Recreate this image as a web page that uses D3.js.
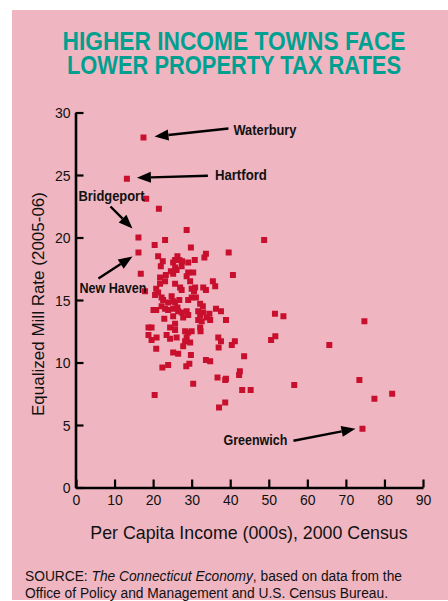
<!DOCTYPE html>
<html>
<head>
<meta charset="utf-8">
<script src="https://cdn.jsdelivr.net/npm/d3@7"></script>
<style>
  html, body { margin: 0; padding: 0; background: #fff; }
  svg { display: block; }
</style>
</head>
<body>
<div id="chart"></div>
<script>
// per capita income (000s) and equalized mill rate, one entry per town
const income = [28.7, 23.1, 20.4, 29.8, 33.7, 33.3, 39.6, 21.3, 26.3, 26.8, 30.8, 22.5, 22.0, 25.2, 25.7,
  27.5, 29.1, 25.7, 26.1, 27.4, 24.6, 25.2, 29.1, 30.4, 28.7, 16.8, 40.7, 23.3, 21.8, 23.1, 21.8, 25.7,
  29.6, 35.5, 36.1, 33.0, 30.9, 27.0, 17.9, 20.8, 21.3, 20.5, 27.4, 30.0, 30.6, 33.7, 22.2, 22.6, 24.8,
  25.2, 23.9, 25.7, 26.8, 29.1, 30.0, 31.1, 32.2, 32.9, 20.1, 20.8, 22.2, 23.1, 23.9, 25.2, 26.3, 26.5,
  27.4, 28.7, 29.1, 27.8, 31.7, 32.2, 33.0, 34.6, 36.3, 37.6, 33.9, 34.8, 38.9, 22.9, 25.2, 31.7, 32.6,
  32.2, 32.3, 24.4, 25.7, 25.7, 18.8, 19.6, 28.3, 29.1, 30.0, 18.8, 19.6, 20.9, 23.5, 24.4, 26.1, 28.7,
  28.3, 29.6, 36.9, 37.6, 41.2, 40.4, 27.8, 20.8, 25.2, 26.5, 29.8, 37.0, 43.6, 22.4, 23.9, 28.6, 29.4,
  33.7, 34.8, 36.7, 38.7, 38.9, 42.5, 42.3, 30.4, 20.4, 43.1, 45.3, 37.1, 38.7, 51.6, 53.8, 74.8, 50.6,
  51.7, 65.7, 56.6, 73.5, 77.4, 82.0, 48.8, 18.2, 21.5];
const millRate = [20.6, 19.8, 19.4, 19.2, 18.7, 18.4, 18.8, 18.5, 18.5, 18.2, 18.2, 18.1, 17.7, 18.0, 18.2,
  18.1, 18.0, 17.6, 17.4, 17.7, 17.3, 17.1, 17.2, 17.2, 16.9, 17.1, 17.0, 17.0, 16.8, 16.5, 16.3, 16.3,
  16.5, 16.5, 16.1, 16.0, 16.0, 16.0, 15.7, 15.9, 15.6, 15.4, 15.8, 15.9, 15.7, 15.8, 15.2, 15.0, 15.3,
  14.9, 14.8, 14.8, 15.0, 15.0, 15.2, 15.2, 14.7, 14.5, 14.2, 14.2, 14.5, 14.3, 14.2, 14.3, 14.4, 14.1,
  14.0, 14.1, 13.8, 13.6, 14.1, 13.8, 14.0, 13.9, 14.3, 14.1, 13.6, 13.4, 13.4, 13.5, 13.7, 13.4, 13.3,
  12.8, 12.5, 12.8, 13.1, 12.6, 12.8, 12.8, 12.5, 12.4, 12.5, 12.2, 11.8, 12.0, 12.2, 11.9, 12.0, 12.0,
  11.7, 11.6, 12.0, 11.7, 11.7, 11.4, 11.3, 11.1, 10.8, 10.7, 10.6, 11.2, 10.5, 9.6, 9.8, 9.7, 9.9,
  10.2, 10.1, 8.8, 8.6, 8.7, 9.3, 9.0, 8.3, 7.4, 7.8, 7.8, 6.4, 6.8, 13.9, 13.7, 13.3, 11.8,
  12.1, 11.4, 8.2, 8.6, 7.1, 7.5, 19.8, 23.1, 22.3];

// towns called out with arrows
const labelTown = ["Waterbury", "Hartford", "Bridgeport", "New Haven", "Greenwich"];
const labelIncome = [17.5, 13.2, 16.2, 16.2, 74.3];
const labelRate = [28.0, 24.7, 20.0, 18.8, 4.7];

const xTicks = [0, 10, 20, 30, 40, 50, 60, 70, 80, 90];
const yTicks = [0, 5, 10, 15, 20, 25, 30];

const W = 448, H = 601;
const pink = "#efb6c1";
const red = "#c8102e";
const teal = "#00a091";
// no narrow face installed, so condensed text is squeezed to its measured width
const narrow = "'Liberation Sans Narrow', 'Arial Narrow', 'Liberation Sans', sans-serif";
const sans = "'Liberation Sans', Arial, Helvetica, sans-serif";

const svg = d3.select("#chart").append("svg")
  .attr("width", W)
  .attr("height", H);

svg.append("rect")
  .attr("x", 12).attr("y", 10)
  .attr("width", W - 12).attr("height", H - 11)
  .attr("fill", pink);

// title
const titleLines = [
  { t: "HIGHER INCOME TOWNS FACE", y: 50, w: 343 },
  { t: "LOWER PROPERTY TAX RATES", y: 74, w: 334 },
];
svg.append("g")
  .selectAll("text")
  .data(titleLines)
  .join("text")
  .attr("x", 234)
  .attr("y", (d) => d.y)
  .attr("text-anchor", "middle")
  .attr("font-family", narrow)
  .attr("font-weight", "bold")
  .attr("font-size", 26.5)
  .attr("fill", teal)
  .attr("textLength", (d) => d.w)
  .attr("lengthAdjust", "spacingAndGlyphs")
  .text((d) => d.t);

const x = d3.scaleLinear().domain([0, 90]).range([76, 423]);
const y = d3.scaleLinear().domain([0, 30]).range([487.5, 112.5]);

const xAxis = svg.append("g")
  .attr("transform", `translate(0,${y(0)})`)
  .call(d3.axisBottom(x).tickValues(xTicks).tickSize(-8).tickSizeOuter(0).tickPadding(8));

const yAxis = svg.append("g")
  .attr("transform", `translate(${x(0) - 0.5},0)`)
  .call(d3.axisLeft(y).tickValues(yTicks).tickSize(-8).tickSizeOuter(0).tickPadding(5));

[xAxis, yAxis].forEach((g) => {
  g.select(".domain").attr("stroke", "#000").attr("stroke-width", 2.6);
  g.selectAll(".tick line").attr("stroke", "#000").attr("stroke-width", 2.2);
  g.selectAll(".tick text")
    .attr("font-family", sans)
    .attr("font-size", 14)
    .attr("fill", "#111");
});
yAxis.selectAll(".tick text").attr("dy", "0.36em");

// axis titles
svg.append("text")
  .attr("x", 249).attr("y", 539)
  .attr("text-anchor", "middle")
  .attr("font-family", sans)
  .attr("font-size", 17.8)
  .attr("fill", "#111")
  .text("Per Capita Income (000s), 2000 Census");

svg.append("text")
  .attr("transform", "translate(44,304) rotate(-90)")
  .attr("text-anchor", "middle")
  .attr("font-family", sans)
  .attr("font-size", 17)
  .attr("fill", "#111")
  .text("Equalized Mill Rate (2005-06)");

// points
const pts = income.map((v, i) => ({ x: v, y: millRate[i] }))
  .concat(labelIncome.map((v, i) => ({ x: v, y: labelRate[i] })));

svg.append("g")
  .selectAll("rect")
  .data(pts)
  .join("rect")
  .attr("x", (d) => x(d.x) - 3)
  .attr("y", (d) => y(d.y) - 3)
  .attr("width", 6)
  .attr("height", 6)
  .attr("fill", red);

// annotations: offsets from the point for arrow tip, arrow tail and label
const annLayout = {
  Waterbury: { tip: [11, -1], tail: [85, -9], text: [90, -3], w: 63 },
  Hartford: { tip: [10, -1], tail: [81, -3], text: [88, 1.5], w: 52 },
  Bridgeport: { tip: [-6, -9], tail: [-28, -31], text: [-60, -37], w: 66 },
  "New Haven": { tip: [-6, 4], tail: [-40, 26], text: [-59, 40], w: 67 },
  Greenwich: { tip: [-7, 0], tail: [-69, 12], text: [-139, 16], w: 64 },
};

const ann = svg.append("g");
labelTown.forEach((name, i) => {
  const px = x(labelIncome[i]);
  const py = y(labelRate[i]);
  const L = annLayout[name];
  const tx = px + L.tip[0], ty = py + L.tip[1];
  const sx = px + L.tail[0], sy = py + L.tail[1];
  const ang = Math.atan2(ty - sy, tx - sx);
  const hl = 14, hw = 5.5;
  const bx = tx - hl * Math.cos(ang), by = ty - hl * Math.sin(ang);
  const nx = -Math.sin(ang), ny = Math.cos(ang);

  ann.append("line")
    .attr("x1", sx).attr("y1", sy)
    .attr("x2", bx).attr("y2", by)
    .attr("stroke", "#000")
    .attr("stroke-width", 2.4);

  ann.append("path")
    .attr("d", `M${tx},${ty}L${bx + hw * nx},${by + hw * ny}L${bx - hw * nx},${by - hw * ny}Z`)
    .attr("fill", "#000");

  ann.append("text")
    .attr("x", px + L.text[0])
    .attr("y", py + L.text[1])
    .attr("font-family", narrow)
    .attr("font-weight", "bold")
    .attr("font-size", 14)
    .attr("fill", "#111")
    .attr("textLength", L.w)
    .attr("lengthAdjust", "spacingAndGlyphs")
    .text(name);
});

// source note
const src = svg.append("g")
  .attr("font-family", narrow)
  .attr("font-size", 15.5)
  .attr("fill", "#111");
const l1 = src.append("text").attr("x", 25).attr("y", 581)
  .attr("textLength", 377)
  .attr("lengthAdjust", "spacingAndGlyphs");
l1.append("tspan").text("SOURCE: ");
l1.append("tspan").attr("font-style", "italic").text("The Connecticut Economy");
l1.append("tspan").text(", based on data from the");
src.append("text").attr("x", 25).attr("y", 598)
  .attr("textLength", 363)
  .attr("lengthAdjust", "spacingAndGlyphs")
  .text("Office of Policy and Management and U.S. Census Bureau.");
</script>
</body>
</html>
